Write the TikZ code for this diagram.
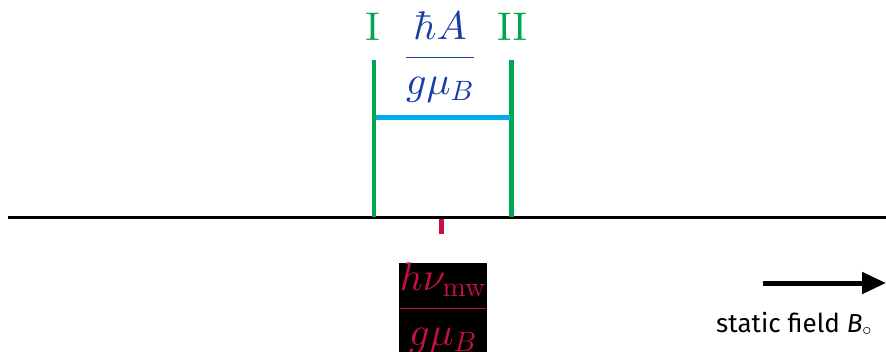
\documentclass[tikz,border=0pt]{standalone}
\usepackage{fix-cm}
\usepackage[no-math]{fontspec}
\DeclareFontShape{OML}{cmm}{m}{it}{<->cmmi10}{}
\DeclareFontShape{OT1}{cmr}{m}{n}{<->cmr10}{}
\DeclareFontShape{OMS}{cmsy}{m}{n}{<->cmsy10}{}
\newfontfamily\labelsans{Fira Sans}
\usetikzlibrary{arrows.meta}
\definecolor{lvlgreen}{RGB}{0,166,81}
\definecolor{widthcyan}{RGB}{0,174,239}
\definecolor{fracblue}{RGB}{24,60,165}
\definecolor{crim}{RGB}{200,16,62}
\tikzset{
  biglabel/.style={anchor=base, inner sep=0pt, font=\fontsize{40}{44}\selectfont},
  greenline/.style={draw=lvlgreen, line width=4.5pt},
  axisline/.style={draw=black, line width=2.2pt},
  fieldarrow/.style={draw=black, line width=5pt, -{Triangle[length=24pt,width=21pt]}},
}
\begin{document}
\begin{tikzpicture}[x=1pt,y=-1pt]
\useasboundingbox (0,0) rectangle (886,351);
% axis
\coordinate (axL) at (8,217.5);
\coordinate (axR) at (886,217.5);
\draw[axisline] (axL) -- (axR);
% green level lines
\coordinate (g1t) at (374,60);
\coordinate (g1b) at (374,216.5);
\coordinate (g2t) at (511.5,60);
\coordinate (g2b) at (511.5,216.5);
\draw[greenline] (g1t) -- (g1b);
\draw[greenline] (g2t) -- (g2b);
% cyan width bar
\coordinate (c1) at (376,117.5);
\coordinate (c2) at (509.5,117.5);
\draw[draw=widthcyan, line width=4.5pt] (c1) -- (c2);
% labels
\node[biglabel, text=lvlgreen] (lI) at (372.5,40) {$\mathrm{I}$};
\node[biglabel, text=lvlgreen] (lII) at (512,40) {$\mathrm{II}$};
\node[biglabel, text=fracblue] (hA) at (440,67) {$\displaystyle\frac{\hbar A}{g\mu_B}$};
% red tick
\coordinate (t1) at (441.5,218.5);
\coordinate (t2) at (441.5,234);
\draw[draw=crim, line width=4.5pt] (t1) -- (t2);
% microwave field fraction
\node[biglabel, fill=black, text=crim] (hv) at (443,318) {$\displaystyle\frac{h\nu_{\mathrm{mw}}}{g\mu_B}$};
% static field arrow
\coordinate (a1) at (763,283);
\coordinate (a2) at (886,283);
\draw[fieldarrow] (a1) -- (a2);
\node[anchor=base west, inner sep=0pt, font=\labelsans\fontsize{26}{30}\selectfont] (sf) at (716,332) {static field \textit{B}$_{\circ}$};
\end{tikzpicture}
\end{document}
